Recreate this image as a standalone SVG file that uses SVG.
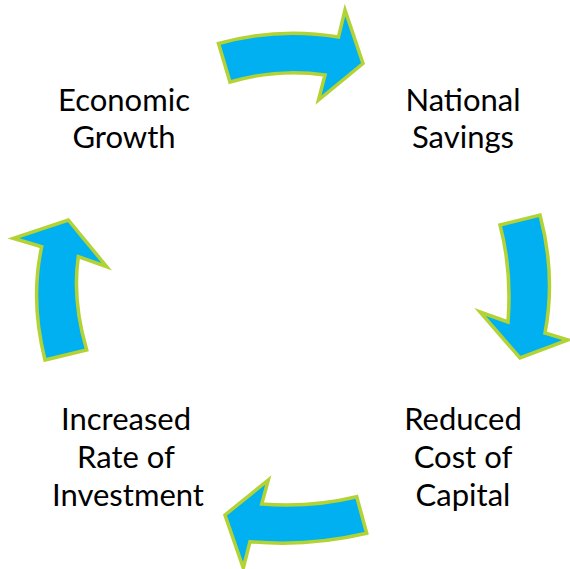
<svg xmlns="http://www.w3.org/2000/svg" width="570" height="569" viewBox="0 0 570 569">
  <style>
    .arrow { fill: #00B0F0; stroke: #B3D334; stroke-width: 3.5; stroke-linejoin: miter; }
    .label { font-family: "Lato", "Open Sans", "Liberation Sans", sans-serif; font-size: 31px; fill: #000; text-anchor: middle; }
  </style>
  <rect width="570" height="569" fill="#fff"/>
  <g id="connectors">
    <!-- top: growth to savings -->
    <path class="arrow" d="M218.5,43.5 Q278,27 338.5,37 L345,10 L363,63.5 L318.5,100 L325,75 Q278,68 230,82 Z"/>
    <!-- right: savings to cost of capital -->
    <path class="arrow" d="M500,225 L540,215 Q556,275 545,333 L568,340 L520,358 L480,312 L508,322 Q512,270 500,225 Z"/>
    <!-- bottom: cost of capital to investment -->
    <path class="arrow" d="M356.7,496.7 L366.7,533.3 Q308,547 250,541.7 L243.3,568 L225,515 L268.3,480 L261.7,504 Q310,508 356.7,496.7 Z"/>
    <!-- left: investment to growth -->
    <path class="arrow" d="M45,360 L86.7,350 Q72,300 78.3,256.7 L106.7,266.7 L68.3,220 L13.3,238.3 L41.7,246.7 Q30,300 45,360 Z"/>
  </g>
  <g id="economic-growth">
    <text class="label" x="124" y="111">Economic</text>
    <text class="label" x="124" y="148">Growth</text>
  </g>
  <g id="national-savings">
    <text class="label" x="463" y="111">National</text>
    <text class="label" x="463" y="148">Savings</text>
  </g>
  <g id="reduced-cost-of-capital">
    <text class="label" x="463" y="430">Reduced</text>
    <text class="label" x="463" y="468">Cost of</text>
    <text class="label" x="463" y="506">Capital</text>
  </g>
  <g id="increased-rate-of-investment">
    <text class="label" x="126" y="430">Increased</text>
    <text class="label" x="126" y="468">Rate of</text>
    <text class="label" x="128" y="506">Investment</text>
  </g>
</svg>
